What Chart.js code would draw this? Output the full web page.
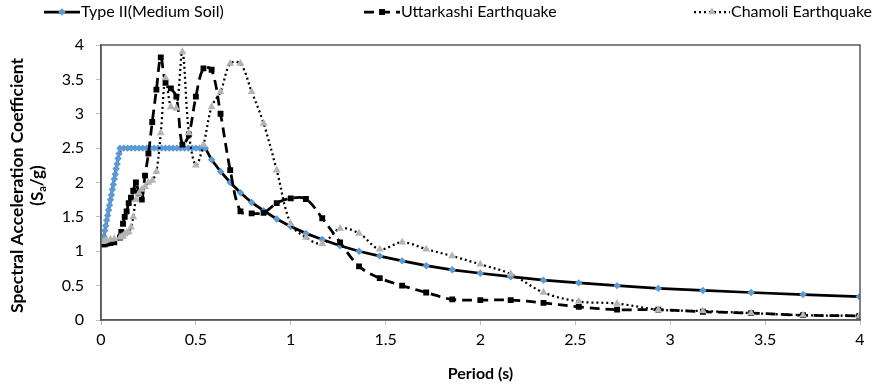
<!DOCTYPE html>
<html>
<head>
<meta charset="utf-8">
<title>Response spectra</title>
<script src="https://cdn.jsdelivr.net/npm/chart.js@4.4.1/dist/chart.umd.min.js"></script>
<style>
  html, body { margin: 0; padding: 0; background: #fff; }
  #spectra { display: block; }
</style>
</head>
<body>
<canvas id="spectra" width="877" height="388"></canvas>
<script>
// Response spectra: IS 1893 Type II design curve vs. two recorded events

// period grid shared by the two earthquake records (s)
const periods = [
  0.01, 0.02, 0.03, 0.05, 0.07, 0.10, 0.107, 0.116, 0.125, 0.135,
  0.146, 0.158, 0.170, 0.184, 0.199, 0.215, 0.232, 0.250, 0.270, 0.292,
  0.315, 0.340, 0.368, 0.397, 0.429, 0.463, 0.500, 0.540, 0.583, 0.630,
  0.681, 0.735, 0.794, 0.857, 0.926, 1.000, 1.080, 1.166, 1.260, 1.360,
  1.469, 1.587, 1.714, 1.851, 1.999, 2.159, 2.332, 2.518, 2.720, 2.937,
  3.172, 3.426, 3.700, 3.996
];

const uttarkashi = [
  1.10, 1.10, 1.11, 1.12, 1.13, 1.20, 1.28, 1.40, 1.50, 1.58,
  1.70, 1.78, 1.88, 2.00, 1.85, 1.75, 2.10, 2.42, 2.88, 3.35,
  3.82, 3.45, 3.37, 3.25, 2.55, 2.70, 3.25, 3.66, 3.64, 3.00,
  2.18, 1.58, 1.55, 1.56, 1.70, 1.77, 1.76, 1.48, 1.13, 0.78,
  0.61, 0.50, 0.40, 0.30, 0.29, 0.29, 0.25, 0.19, 0.15, 0.15,
  0.12, 0.10, 0.07, 0.06
];

const chamoli = [
  1.14, 1.15, 1.16, 1.17, 1.18, 1.20, 1.21, 1.22, 1.25, 1.27,
  1.28, 1.35, 1.50, 1.75, 1.84, 1.90, 1.94, 2.00, 2.03, 2.16,
  2.72, 3.52, 3.10, 3.08, 3.90, 2.72, 2.25, 2.55, 3.10, 3.32,
  3.73, 3.73, 3.32, 2.86, 2.18, 1.40, 1.20, 1.11, 1.33, 1.26,
  1.03, 1.13, 1.03, 0.93, 0.81, 0.67, 0.40, 0.27, 0.24, 0.15,
  0.13, 0.10, 0.07, 0.06
];

// design spectrum, medium soil
const typeIIPeriods = [
  0.005, 0.010, 0.015, 0.020, 0.025, 0.030, 0.035, 0.040, 0.045, 0.050,
  0.055, 0.060, 0.065, 0.070, 0.075, 0.080, 0.085, 0.090, 0.095, 0.100,
  0.12, 0.14, 0.16, 0.18, 0.20, 0.22, 0.24, 0.26, 0.28, 0.30,
  0.32, 0.34, 0.36, 0.38, 0.40, 0.42, 0.44, 0.46, 0.48, 0.50,
  0.52, 0.54, 0.55, 0.583, 0.630, 0.681, 0.735, 0.794, 0.857, 0.926,
  1.000, 1.080, 1.166, 1.260, 1.360, 1.469, 1.587, 1.714, 1.851, 1.999,
  2.159, 2.332, 2.518, 2.720, 2.937, 3.172, 3.426, 3.700, 3.996
];

const typeII = [
  1.13, 1.15, 1.22, 1.30, 1.37, 1.45, 1.52, 1.60, 1.67, 1.75,
  1.82, 1.90, 1.97, 2.05, 2.12, 2.20, 2.27, 2.35, 2.42, 2.50,
  2.50, 2.50, 2.50, 2.50, 2.50, 2.50, 2.50, 2.50, 2.50, 2.50,
  2.50, 2.50, 2.50, 2.50, 2.50, 2.50, 2.50, 2.50, 2.50, 2.50,
  2.50, 2.50, 2.50, 2.33, 2.16, 2.00, 1.85, 1.71, 1.59, 1.47,
  1.36, 1.26, 1.17, 1.08, 1.00, 0.93, 0.86, 0.79, 0.73, 0.68,
  0.63, 0.58, 0.54, 0.50, 0.46, 0.43, 0.40, 0.37, 0.34
];

const seriesNames = ['Type II(Medium Soil)', 'Uttarkashi Earthquake', 'Chamoli Earthquake'];
const xTicks = [0, 0.5, 1, 1.5, 2, 2.5, 3, 3.5, 4];
const yTicks = [0, 0.5, 1, 1.5, 2, 2.5, 3, 3.5, 4];
const X_TITLE = 'Period (s)';
const Y_TITLE = 'Spectral Acceleration Coefficient';

const FONT = "Lato, 'Open Sans', sans-serif";
const AXIS_COLOR = '#595959';
const TICK_MARK = '#BFBFBF';

function toPoints(xs, ys) {
  return xs.map((x, i) => ({ x, y: ys[i] }));
}

// frame around the plot area (top and right edges too)
const frame = {
  id: 'frame',
  afterDatasetsDraw(chart) {
    const { ctx, chartArea: a } = chart;
    ctx.save();
    ctx.strokeStyle = AXIS_COLOR;
    ctx.lineWidth = 1.5;
    ctx.strokeRect(a.left, a.top, a.right - a.left, a.bottom - a.top);
    ctx.restore();
  }
};

// two-line y title with the subscript in S_a
const yTitle = {
  id: 'yTitle',
  afterDraw(chart) {
    const { ctx, chartArea: a } = chart;
    const cy = (a.top + a.bottom) / 2 + 3;
    ctx.save();
    ctx.translate(17, cy);
    ctx.rotate(-Math.PI / 2);
    ctx.fillStyle = '#000';
    ctx.textBaseline = 'middle';
    ctx.textAlign = 'center';
    ctx.font = `bold 17.5px ${FONT}`;
    ctx.fillText(Y_TITLE, 0, 0);

    const big = `bold 17px ${FONT}`, small = `bold 11px ${FONT}`;
    ctx.textAlign = 'left';
    ctx.font = big; const w1 = ctx.measureText('(S').width; const w3 = ctx.measureText('/g)').width;
    ctx.font = small; const w2 = ctx.measureText('a').width;
    let x = -(w1 + w2 + w3) / 2;
    const y = 21;
    ctx.font = big; ctx.fillText('(S', x, y); x += w1;
    ctx.font = small; ctx.fillText('a', x, y + 4); x += w2;
    ctx.font = big; ctx.fillText('/g)', x, y);
    ctx.restore();
  }
};

// legend row: line sample with its marker, then the name
const legendRow = {
  id: 'legendRow',
  afterDraw(chart) {
    const { ctx } = chart;
    const starts = [44, 364, 694];
    const sample = 36, cy = 12;
    ctx.save();
    chart.data.datasets.forEach((ds, i) => {
      const x0 = starts[i];
      ctx.strokeStyle = ds.borderColor;
      ctx.lineWidth = ds.borderWidth;
      ctx.setLineDash(ds.borderDash || []);
      ctx.beginPath();
      ctx.moveTo(x0, cy);
      ctx.lineTo(x0 + sample, cy);
      ctx.stroke();
      ctx.setLineDash([]);
      ctx.fillStyle = ds.pointBackgroundColor;
      ctx.strokeStyle = ds.pointBorderColor;
      Chart.helpers.drawPoint(ctx, {
        pointStyle: ds.pointStyle, radius: ds.pointRadius, rotation: 0, borderWidth: 1
      }, x0 + sample / 2, cy);
      ctx.fillStyle = '#000';
      ctx.font = `16px ${FONT}`;
      ctx.textBaseline = 'middle';
      ctx.textAlign = 'left';
      ctx.fillText(ds.label, x0 + sample + 1, cy);
    });
    ctx.restore();
  }
};

new Chart(document.getElementById('spectra'), {
  type: 'line',
  data: {
    datasets: [
      {
        label: seriesNames[0],
        data: toPoints(typeIIPeriods, typeII),
        borderColor: '#000000',
        borderWidth: 2.75,
        tension: 0,
        pointStyle: 'rectRot',
        pointRadius: 1.8,
        pointBackgroundColor: '#5B9BD5',
        pointBorderColor: '#5B9BD5',
        order: 3
      },
      {
        label: seriesNames[1],
        data: toPoints(periods, uttarkashi),
        borderColor: '#000000',
        borderWidth: 2.75,
        borderDash: [10, 6],
        tension: 0.35,
        pointStyle: 'rect',
        pointRadius: 2.2,
        pointBackgroundColor: '#000000',
        pointBorderColor: '#000000',
        order: 2
      },
      {
        label: seriesNames[2],
        data: toPoints(periods, chamoli),
        borderColor: '#000000',
        borderWidth: 2.25,
        borderDash: [2, 3],
        tension: 0.35,
        pointStyle: 'triangle',
        pointRadius: 2.3,
        pointBackgroundColor: '#B4B4B4',
        pointBorderColor: '#B4B4B4',
        order: 1
      }
    ]
  },
  options: {
    responsive: false,
    animation: false,
    layout: { padding: { top: 45, right: 17, left: 0, bottom: 0 } },
    plugins: {
      legend: { display: false },
      tooltip: { enabled: false }
    },
    scales: {
      x: {
        type: 'linear',
        min: 0, max: 4,
        afterFit: s => { s.height = 68; },
        afterBuildTicks: s => { s.ticks = xTicks.map(v => ({ value: v })); },
        grid: { drawOnChartArea: false, drawTicks: true, tickLength: 5, color: TICK_MARK },
        border: { display: true, color: AXIS_COLOR, width: 1.5 },
        ticks: {
          color: '#000', padding: 5, maxRotation: 0,
          font: { family: FONT, size: 16 },
          callback: v => String(v)
        },
        title: {
          display: true, text: X_TITLE, color: '#000',
          font: { family: FONT, size: 16, weight: 'bold' },
          padding: { top: 0, bottom: 5 }
        }
      },
      y: {
        type: 'linear',
        min: 0, max: 4,
        afterFit: s => { s.width = 101; },
        afterBuildTicks: s => { s.ticks = yTicks.map(v => ({ value: v })); },
        grid: { drawOnChartArea: false, drawTicks: true, tickLength: 5, color: TICK_MARK },
        border: { display: true, color: AXIS_COLOR, width: 1.5 },
        ticks: {
          color: '#000', padding: 12,
          font: { family: FONT, size: 16 },
          callback: v => String(v)
        }
      }
    }
  },
  plugins: [frame, yTitle, legendRow]
});
</script>
</body>
</html>
